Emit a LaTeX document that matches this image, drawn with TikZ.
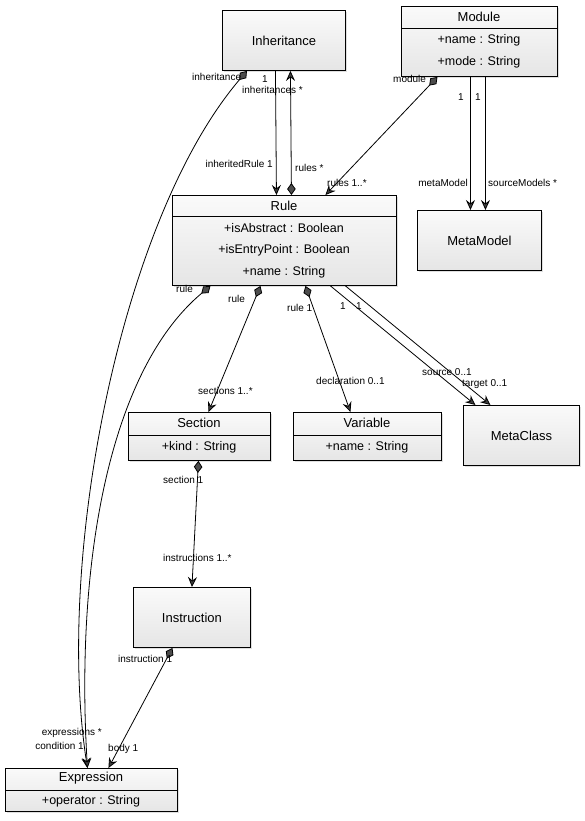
\documentclass[tikz,border=0pt]{standalone}
\usepackage{fontspec}
\setmainfont{Liberation Sans}
\usetikzlibrary{arrows.meta,shadows}
\begin{document}
\begin{tikzpicture}[x=1pt,y=-1pt,
  classbox/.style={draw=black,line width=0.9pt,top color=gray!4,bottom color=gray!20,
    drop shadow={opacity=0.25,shadow xshift=2pt,shadow yshift=-2pt},
    inner sep=0pt,anchor=north west},
  cname/.style={font=\fontsize{13}{15}\selectfont},
  attr/.style={font=\fontsize{12.5}{14}\selectfont},
  lbl/.style={font=\fontsize{10}{12}\selectfont,inner sep=0pt},
  assoc/.style={line width=0.8pt,-{Stealth[length=10pt,width=9pt,inset=3.5pt,fill=black!75]}},
  comp/.style={line width=0.8pt,{Diamond[length=12pt,width=8.5pt,fill=black!70]}-{Stealth[length=10pt,width=9pt,inset=3.5pt,fill=black!75]}}]
\useasboundingbox (0,0) rectangle (584,821);
% classes
\node[classbox,minimum width=123pt,minimum height=60pt] (inh) at (222,10) {};
\node[cname] (inhT) at (inh.center) {Inheritance};
\node[classbox,minimum width=156pt,minimum height=70pt] (mod) at (401,6) {};
\node[cname] (modT) at (479,17) {Module};
\node[attr] (modA) at (479,40) {+name : String};
\node[attr] (modB) at (479,62) {+mode : String};
\draw[line width=0.9pt] ([yshift=-22]mod.north west) -- ([yshift=-22]mod.north east);
\node[classbox,minimum width=224pt,minimum height=90pt] (rule) at (172,195) {};
\node[cname] (ruleT) at (284,206) {Rule};
\node[attr] (ruleA) at (284,228) {+isAbstract : Boolean};
\node[attr] (ruleB) at (284,250) {+isEntryPoint : Boolean};
\node[attr] (ruleC) at (284,272) {+name : String};
\draw[line width=0.9pt] ([yshift=-21]rule.north west) -- ([yshift=-21]rule.north east);
\node[classbox,minimum width=124pt,minimum height=60pt] (mm) at (417,210) {};
\node[cname] (mmT) at (mm.center) {MetaModel};
\node[classbox,minimum width=142pt,minimum height=48pt] (sec) at (128,412) {};
\node[cname] (secT) at (199,423) {Section};
\node[attr] (secA) at (199,447) {+kind : String};
\draw[line width=0.9pt] ([yshift=-23]sec.north west) -- ([yshift=-23]sec.north east);
\node[classbox,minimum width=148pt,minimum height=48pt] (var) at (293,412) {};
\node[cname] (varT) at (367,423) {Variable};
\node[attr] (varA) at (367,447) {+name : String};
\draw[line width=0.9pt] ([yshift=-23]var.north west) -- ([yshift=-23]var.north east);
\node[classbox,minimum width=116pt,minimum height=60pt] (mc) at (463,405) {};
\node[cname] (mcT) at (mc.center) {MetaClass};
\node[classbox,minimum width=117pt,minimum height=60pt] (ins) at (133,587) {};
\node[cname] (insT) at (ins.center) {Instruction};
\node[classbox,minimum width=172pt,minimum height=43pt] (expr) at (5,768) {};
\node[cname] (exprT) at (91,778) {Expression};
\node[attr] (exprA) at (91,801) {+operator : String};
\draw[line width=0.9pt] ([yshift=-22]expr.north west) -- ([yshift=-22]expr.north east);
% connectors
\draw[comp] ([xshift=-37]inh.south) .. controls (120,220) and (55,560) .. ([xshift=-4]expr.north);
\draw[assoc] ([xshift=-8.5]inh.south) -- ([xshift=-8]rule.north);
\draw[comp] ([xshift=7]rule.north) -- ([xshift=6.5]inh.south);
\draw[comp] ([xshift=-42]mod.south) -- ([xshift=41]rule.north);
\draw[assoc] ([xshift=-9]mod.south) -- ([xshift=-9]mm.north);
\draw[assoc] ([xshift=6]mod.south) -- ([xshift=6]mm.north);
\draw[comp] ([xshift=-74]rule.south) .. controls (110,370) and (75,560) .. ([xshift=-4]expr.north);
\draw[comp] ([xshift=-24]rule.south) -- ([xshift=9]sec.north);
\draw[comp] ([xshift=21]rule.south) -- ([xshift=-17]var.north);
\draw[assoc] ([xshift=46]rule.south) -- ([xshift=-46]mc.north);
\draw[assoc] ([xshift=61]rule.south) -- ([xshift=-31]mc.north);
\draw[comp] ([xshift=-1]sec.south) -- (ins.north);
\draw[comp] ([xshift=-19.5]ins.south) -- ([xshift=17]expr.north);
% labels
\node[lbl,anchor=west] (l1) at (192,77) {inheritance};
\node[lbl,anchor=west] (l2) at (262,79) {1};
\node[lbl,anchor=west] (l3) at (242,90) {inheritances *};
\node[lbl,anchor=east] (l4) at (273,164) {inheritedRule 1};
\node[lbl,anchor=west] (l5) at (295,168) {rules *};
\node[lbl,anchor=west] (l6) at (393,79) {module};
\node[lbl,anchor=west] (l7) at (327,183) {rules 1..*};
\node[lbl,anchor=west] (l8) at (458,97) {1};
\node[lbl,anchor=west] (l9) at (475,97) {1};
\node[lbl,anchor=east] (l10) at (468,183) {metaModel};
\node[lbl,anchor=west] (l11) at (488,183) {sourceModels *};
\node[lbl,anchor=west] (l12) at (176,289) {rule};
\node[lbl,anchor=west] (l13) at (228,299) {rule};
\node[lbl,anchor=west] (l14) at (287,308) {rule 1};
\node[lbl,anchor=west] (l15) at (340,306) {1};
\node[lbl,anchor=west] (l16) at (356,306) {1};
\node[lbl,anchor=west] (l17) at (198,391) {sections 1..*};
\node[lbl,anchor=west] (l18) at (316,381) {declaration 0..1};
\node[lbl,anchor=west] (l19) at (422,372) {source 0..1};
\node[lbl,anchor=west] (l20) at (462,384) {target 0..1};
\node[lbl,anchor=west] (l21) at (163,480) {section 1};
\node[lbl,anchor=west] (l22) at (163,558) {instructions 1..*};
\node[lbl,anchor=west] (l23) at (118,659) {instruction 1};
\node[lbl,anchor=east] (l24) at (102,733) {expressions *};
\node[lbl,anchor=east] (l25) at (84,746) {condition 1};
\node[lbl,anchor=west] (l26) at (108,749) {body 1};
\end{tikzpicture}
\end{document}
